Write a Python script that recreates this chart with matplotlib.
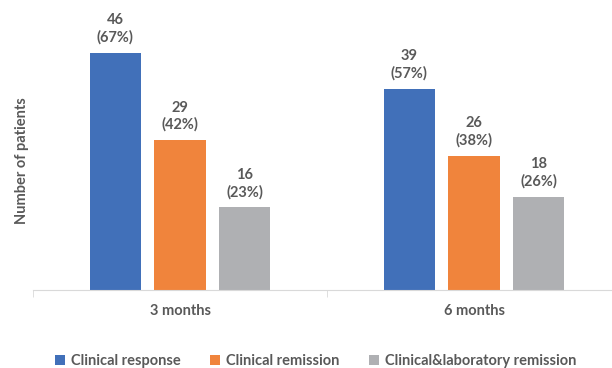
import numpy as np
import matplotlib.pyplot as plt

# Data
periods = ['3 months', '6 months']
series = ['Clinical response', 'Clinical remission', 'Clinical&laboratory remission']
counts = [[46, 39], [29, 26], [16, 18]]
percents = [[67, 57], [42, 38], [23, 26]]
colors = ['#4170B9', '#F0843C', '#AFB0B3']

plt.rcParams['font.family'] = ['Lato', 'DejaVu Sans']
txt = '#595959'

fig = plt.figure(figsize=(6.12, 3.68), dpi=100)
# axes spans past the right edge like the original crop
ax = fig.add_axes([33 / 612, 78 / 368, 588 / 612, 258 / 368])

x = np.arange(len(periods))
width = 0.1735
step = 0.221
for i, name in enumerate(series):
    pos = x + (i - 1) * step
    bars = ax.bar(pos, counts[i], width, color=colors[i], label=name)
    for b, c, p in zip(bars, counts[i], percents[i]):
        ax.annotate(f'{c}\n({p}%)', (b.get_x() + b.get_width() / 2, b.get_height()),
                    xytext=(0, 6), textcoords='offset points', ha='center', va='bottom',
                    fontsize=10.5, fontweight='bold', color=txt, linespacing=1.25)

ax.set_xlim(-0.5, 1.5)
ax.set_ylim(0, 50)
ax.set_xticks(x)
ax.set_xticklabels(periods, fontsize=10.5, fontweight='bold', color=txt)
ax.set_xticks([-0.5, 0.5, 1.5], minor=True)
ax.tick_params(axis='x', which='major', length=0, pad=10)
ax.tick_params(axis='x', which='minor', length=5, color='#D9D9D9', direction='out')
ax.set_yticks([])
for s in ['top', 'right', 'left']:
    ax.spines[s].set_visible(False)
ax.spines['bottom'].set_color('#D9D9D9')
ax.set_ylabel('Number of patients', fontsize=10.5, fontweight='bold', color=txt)
ax.yaxis.set_label_coords(-4 / 588, 0.5)

leg = fig.legend(loc='lower left', bbox_to_anchor=(42 / 612, -0.037), ncol=3, frameon=False,
                 fontsize=10.5, handlelength=0.7, handleheight=0.7, handletextpad=0.4,
                 columnspacing=2.0)
for t in leg.get_texts():
    t.set_color(txt)
    t.set_fontweight('bold')

fig.savefig('out.png', dpi=100)
